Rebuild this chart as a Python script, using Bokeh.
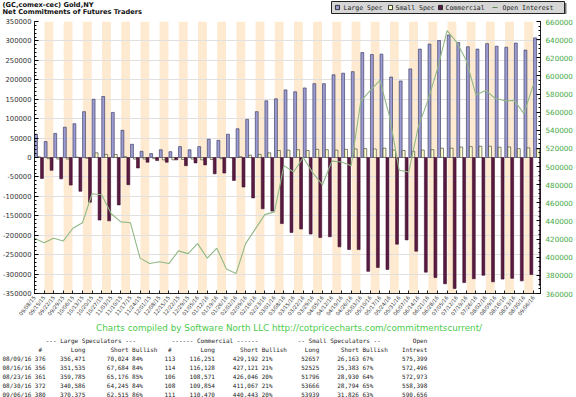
from bokeh.plotting import figure
from bokeh.layouts import column
from bokeh.models import Range1d, LinearAxis, FixedTicker, NumeralTickFormatter
from bokeh.core.properties import value
from bokeh.embed import file_html
from bokeh.resources import INLINE

# ---------------- data ----------------
dates = ["09/08/15", "09/15/15", "09/22/15", "09/29/15", "10/06/15", "10/13/15", "10/20/15", "10/27/15",
         "11/03/15", "11/10/15", "11/17/15", "11/24/15", "12/01/15", "12/08/15", "12/15/15", "12/22/15",
         "12/29/15", "01/05/16", "01/12/16", "01/19/16", "01/26/16", "02/02/16", "02/09/16", "02/16/16",
         "02/23/16", "03/01/16", "03/08/16", "03/15/16", "03/22/16", "03/29/16", "04/05/16", "04/12/16",
         "04/19/16", "04/26/16", "05/03/16", "05/10/16", "05/17/16", "05/24/16", "05/31/16", "06/07/16",
         "06/14/16", "06/21/16", "06/28/16", "07/05/16", "07/12/16", "07/19/16", "07/26/16", "08/02/16",
         "08/09/16", "08/16/16", "08/23/16", "08/30/16", "09/06/16"]

large_spec = [60000, 41000, 62000, 78000, 87000, 118000, 150000, 157000, 116000, 70000,
              34000, 16000, 10000, 20000, 15000, 28000, 20000, 28000, 47000, 44000,
              60000, 74000, 98000, 118000, 146000, 151000, 174000, 169000, 179000, 190000,
              190000, 213000, 217000, 221000, 270000, 265000, 266000, 207000, 197000, 228000,
              279000, 292000, 301000, 315000, 296000, 285000, 279000, 293000, 286447, 283851,
              294609, 276341, 307860]

small_spec = [2000, -3000, -4000, -4000, 1000, -2000, 12000, 8000, 8000, 2000,
              -4000, -4000, -3000, -6000, -6000, -5000, -4000, -6000, -5000, -3000,
              -1000, 2000, 6000, 8000, 12000, 18000, 19000, 20000, 18000, 21000,
              20000, 19000, 21000, 22000, 23000, 22000, 24000, 19000, 18000, 16000,
              19000, 20000, 24000, 24000, 27000, 28000, 29000, 29000, 26494, 27142,
              22866, 24872, 22113]

commercial = [-54000, -33000, -55000, -71000, -87000, -115000, -161000, -163000, -122000, -70000,
              -27000, -12000, -8000, -12000, -6000, -21000, -14000, -19000, -42000, -40000,
              -59000, -76000, -104000, -132000, -138000, -170000, -193000, -184000, -197000, -206000,
              -204000, -230000, -237000, -237000, -293000, -283000, -288000, -223000, -212000, -241000,
              -295000, -309000, -325000, -337000, -322000, -312000, -303000, -320000, -312941, -310993,
              -317475, -301213, -329973]

open_interest = [421000, 416000, 421000, 418000, 432000, 438000, 470000, 469000, 448000, 439000,
                 438000, 399000, 393000, 395000, 393000, 407000, 404000, 415000, 399000, 410000,
                 387000, 382000, 415000, 431000, 447000, 450000, 501000, 494000, 510000, 493000,
                 480000, 506000, 505000, 501000, 572000, 584000, 595000, 555000, 496000, 494000,
                 544000, 573000, 608000, 650000, 637000, 617000, 579000, 584000, 575399, 572496,
                 572973, 558398, 590656]

left_ticks = list(range(-350000, 350001, 50000))
right_ticks = list(range(360000, 660001, 20000))

title_lines = ["(GC,comex-cec) Gold,NY", "Net Commitments of Futures Traders"]
legend_names = ["Large Spec", "Small Spec", "Commercial", "Open Interest"]
footer_text = "Charts compiled by Software North LLC  http://cotpricecharts.com/commitmentscurrent/"

tbl_dates = ["08/09/16", "08/16/16", "08/23/16", "08/30/16", "09/06/16"]
ls_n = ["376", "356", "361", "372", "380"]
ls_long = ["356,471", "351,535", "359,785", "340,586", "370,375"]
ls_short = ["70,024", "67,684", "65,176", "64,245", "62,515"]
ls_bull = ["84%", "84%", "85%", "84%", "86%"]
c_n = ["113", "114", "106", "108", "111"]
c_long = ["116,251", "116,128", "108,571", "109,854", "110,470"]
c_short = ["429,192", "427,121", "426,046", "411,067", "440,443"]
c_bull = ["21%", "21%", "20%", "21%", "20%"]
s_long = ["52657", "52525", "51796", "53666", "53939"]
s_short = ["26,163", "25,383", "28,930", "28,794", "31,826"]
s_bull = ["67%", "67%", "64%", "65%", "63%"]
oi_tbl = ["575,399", "572,496", "572,973", "558,398", "590,656"]

# ---------------- layout constants ----------------
W = 576
TOP_H = 14
MAIN_H = 307
BOT_H = 397 - TOP_H - MAIN_H
XMAX = 52.73

LARGE_C, SMALL_C, COMM_C, OI_C = "#9C9CD2", "#FFFFCC", "#5A1A42", "#92B886"


def text_fig(height, ry0):
    f = figure(width=W, height=height, output_backend="svg", toolbar_location=None,
               x_range=Range1d(0, W), y_range=Range1d(ry0 + height, ry0),
               x_axis_location=None, y_axis_location=None, min_border=0, frame_align=False,
               outline_line_color=None, background_fill_color="white", border_fill_color="white")
    f.grid.visible = False
    return f


def put(f, xs, ys, texts, size, color="#222222", font="DejaVu Sans Mono", align="left", style="normal"):
    f.text(x=xs, y=ys, text=texts, text_font=value(font), text_font_size=value(f"{size}px"),
           text_color=color, text_align=align, text_baseline="middle", text_font_style=style)


# ---------------- top: title + legend ----------------
top = text_fig(TOP_H, 0.0)
put(top, [2, 2], [4.3, 11.0], title_lines, 6.7, color="#111111", font="DejaVu Sans", style="bold")
top.quad(left=[333], right=[566], top=[2.5], bottom=[14.5], fill_color="#777777", line_color=None)
top.quad(left=[331], right=[564], top=[1], bottom=[13], fill_color="#D6D6D6", line_color="#222222",
         line_width=1)
top.rect(x=[337, 390], y=[7, 7], width=4, height=4.2, fill_color=[LARGE_C, SMALL_C],
         line_color="#111111", line_width=0.8)
top.rect(x=[440], y=[7], width=4, height=4.2, fill_color=COMM_C, line_color="#111111", line_width=0.8)
top.line(x=[492, 497], y=[7, 7], line_color="#5C8A50", line_width=1.2)
put(top, [343, 395, 445, 502], [7, 7, 7, 7], legend_names, 6.5)

# ---------------- main chart ----------------
p = figure(width=W, height=MAIN_H, output_backend="svg", toolbar_location=None,
           x_range=Range1d(0, XMAX), y_range=Range1d(-350000, 350000),
           min_border_left=33, min_border_right=36, min_border_top=7, min_border_bottom=26,
           frame_align=False,
           background_fill_color="white", border_fill_color="white", outline_line_color=None)
p.extra_y_ranges = {"oi": Range1d(360000, 660000)}

idx = list(range(len(dates)))
odd = [i + 0.5 for i in idx if i % 2 == 1]
stripes = p.vbar(x=odd, width=0.92, top=350000, bottom=-350000, fill_color="#FDEAD0", line_color=None)
stripes.level = "image"

p.vbar(x=[i + 0.16 for i in idx], width=0.3, top=large_spec, bottom=0,
       fill_color=LARGE_C, line_color="#2E2E55", line_width=0.6)
p.vbar(x=[i + 0.47 for i in idx], width=0.3, top=small_spec, bottom=0,
       fill_color=SMALL_C, line_color="#333333", line_width=0.6)
p.vbar(x=[i + 0.78 for i in idx], width=0.3, top=commercial, bottom=0,
       fill_color=COMM_C, line_color="#3A0E2A", line_width=0.6)
p.line(x=idx, y=open_interest, y_range_name="oi", line_color=OI_C, line_width=1.1)

p.xaxis.ticker = FixedTicker(ticks=idx)
p.xaxis.major_label_overrides = {i: d for i, d in enumerate(dates)}
p.xaxis.major_label_orientation = 0.9
p.xaxis.major_label_text_font = "DejaVu Sans"
p.xaxis.major_label_text_font_size = "5.2px"
p.xaxis.major_label_text_color = "#333333"
p.xaxis.major_label_standoff = 3
p.xaxis.major_tick_in = 3
p.xaxis.major_tick_out = 0
p.xaxis.minor_tick_line_color = None
p.xaxis.axis_line_color = "#222222"
p.xaxis.major_tick_line_color = "#222222"

p.yaxis.ticker = FixedTicker(ticks=left_ticks, minor_ticks=list(range(-350000, 350001, 10000)))
p.yaxis.formatter = NumeralTickFormatter(format="0")
p.yaxis.major_label_text_font = "DejaVu Sans"
p.yaxis.major_label_text_font_size = "6.8px"
p.yaxis.major_label_text_color = "#333333"
p.yaxis.major_label_standoff = 3
p.yaxis.major_tick_in = 4
p.yaxis.major_tick_out = 0
p.yaxis.minor_tick_in = 2
p.yaxis.minor_tick_out = 0
p.yaxis.axis_line_color = "#222222"

right = LinearAxis(y_range_name="oi",
                   ticker=FixedTicker(ticks=right_ticks, minor_ticks=list(range(360000, 660001, 5000))),
                   formatter=NumeralTickFormatter(format="0"))
right.major_label_text_font = "DejaVu Sans"
right.major_label_text_font_size = "7.2px"
right.major_label_text_color = "#44A844"
right.major_label_standoff = 5
right.major_tick_in = 4
right.major_tick_out = 0
right.minor_tick_in = 2
right.minor_tick_out = 0
right.axis_line_color = "#222222"
p.add_layout(right, "right")

p.ygrid.ticker = FixedTicker(ticks=left_ticks)
p.ygrid.grid_line_color = "#E0E0E0"
p.xgrid.visible = False

# ---------------- bottom: footer + table ----------------
bot = text_fig(BOT_H, TOP_H + MAIN_H)
put(bot, [290], [327], [footer_text], 8.8, color="#4CCB4C", font="DejaVu Sans", align="center")

CW = 3.6
TS = 6.0


def cx(c):
    return 2 + CW * c


put(bot, [cx(12), cx(47), cx(82)], [340] * 3,
    ["--- Large Speculators ---", "------ Commercial ------", "-- Small Speculators --"], TS)
put(bot, [cx(118)], [340], ["Open"], TS, align="right")

hdr_left = [("#", 10), ("Bullish", 36), ("#", 46), ("Bullish", 72), ("Bullish", 100)]
hdr_right = [("Long", 23), ("Short", 35), ("Long", 59), ("Short", 71), ("Long", 88), ("Short", 99),
             ("Intrest", 118)]
put(bot, [cx(c) for _, c in hdr_left], [349] * len(hdr_left), [t for t, _ in hdr_left], TS)
put(bot, [cx(c) for _, c in hdr_right], [349] * len(hdr_right), [t for t, _ in hdr_right], TS,
    align="right")

row_y = [358, 367, 376, 385, 394]
left_cols = [(tbl_dates, 0), (ls_bull, 36), (c_bull, 72), (s_bull, 100)]
right_cols = [(ls_n, 12), (ls_long, 23), (ls_short, 35), (c_n, 48), (c_long, 59), (c_short, 71),
              (s_long, 88), (s_short, 99), (oi_tbl, 118)]
for arr, c in left_cols:
    put(bot, [cx(c)] * len(arr), row_y, arr, TS)
for arr, c in right_cols:
    put(bot, [cx(c)] * len(arr), row_y, arr, TS, align="right")

layout = column(top, p, bot, spacing=0)
open("out.html", "w").write(file_html(layout, INLINE))
